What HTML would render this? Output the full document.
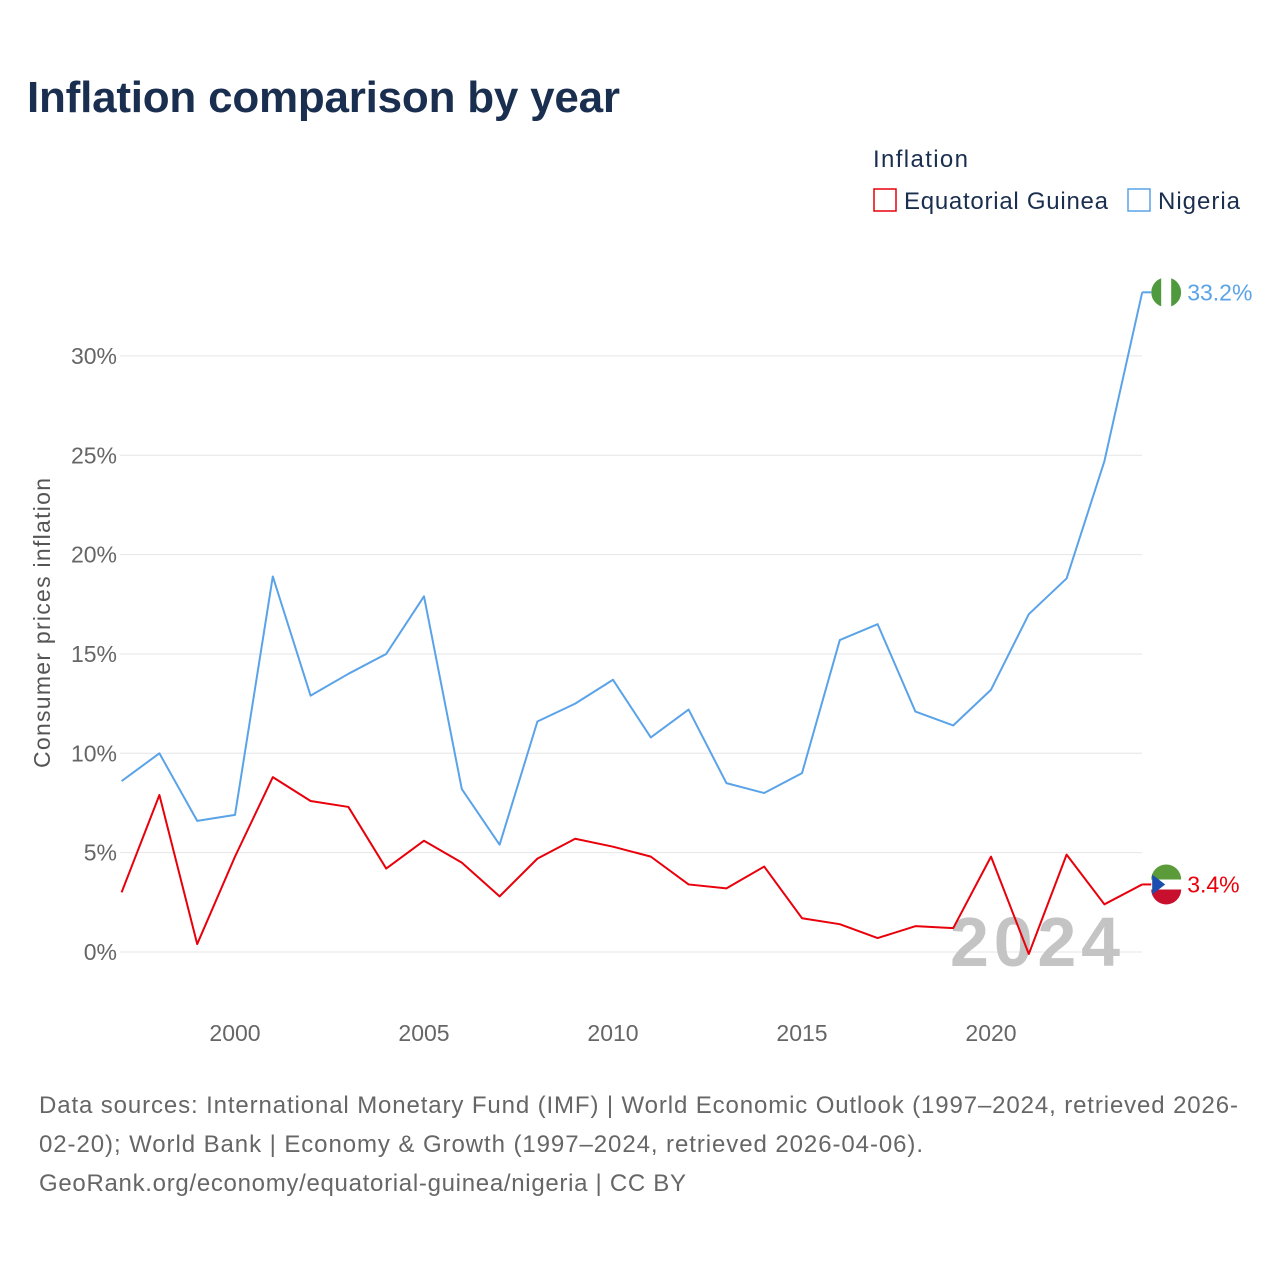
<!DOCTYPE html>
<html><head><meta charset="utf-8"><style>
body{margin:0;background:#fff;font-family:"Liberation Sans",sans-serif}
</style></head><body>
<svg width="1280" height="1280" viewBox="0 0 1280 1280" xmlns="http://www.w3.org/2000/svg" style="font-family:'Liberation Sans',sans-serif">
<rect width="1280" height="1280" fill="#fff"/>
<text x="27" y="112" font-size="44" font-weight="bold" fill="#1a2e4f" textLength="593">Inflation comparison by year</text>
<text x="873" y="167" font-size="24" fill="#1a2e4f" textLength="95">Inflation</text>
<g><rect x="874" y="189" width="22" height="22" fill="none" stroke="#e8000b" stroke-width="1.5"/><text x="904" y="209" font-size="24" fill="#1a2e4f" textLength="204">Equatorial Guinea</text></g>
<g><rect x="1128" y="189" width="22" height="22" fill="none" stroke="#5aa3e8" stroke-width="1.5"/><text x="1158" y="209" font-size="24" fill="#1a2e4f" textLength="82">Nigeria</text></g>
<g id="grid"></g>
<g id="yt"></g>
<g id="xt"></g>
<text transform="translate(50,623) rotate(-90)" text-anchor="middle" font-size="23" fill="#555" textLength="290">Consumer prices inflation</text>
<text x="950" y="966" font-size="70" font-weight="bold" fill="#c4c4c4" textLength="170">2024</text>
<g id="series"></g>
<g font-size="24" fill="#666">
<text x="39" y="1113" textLength="1199">Data sources: International Monetary Fund (IMF) | World Economic Outlook (1997–2024, retrieved 2026-</text>
<text x="39" y="1152" textLength="884">02-20); World Bank | Economy &amp; Growth (1997–2024, retrieved 2026-04-06).</text>
<text x="39" y="1191" textLength="647">GeoRank.org/economy/equatorial-guinea/nigeria | CC BY</text>
</g>
</svg>
<script>
const years=[];for(let y=1997;y<=2024;y++)years.push(y);
const nigeria=[8.6,10.0,6.6,6.9,18.9,12.9,14.0,15.0,17.9,8.2,5.4,11.6,12.5,13.7,10.8,12.2,8.5,8.0,9.0,15.7,16.5,12.1,11.4,13.2,17.0,18.8,24.7,33.2];
const eqGuinea=[3.0,7.9,0.4,4.8,8.8,7.6,7.3,4.2,5.6,4.5,2.8,4.7,5.7,5.3,4.8,3.4,3.2,4.3,1.7,1.4,0.7,1.3,1.2,4.8,-0.1,4.9,2.4,3.4];
const yTicks=[0,5,10,15,20,25,30];
const xTicks=[2000,2005,2010,2015,2020];
const NS="http://www.w3.org/2000/svg";
const X=y=>121.6+(y-1997)*37.8;
const Y=v=>952-v*19.87;
function mk(t,a,p){const e=document.createElementNS(NS,t);for(const k in a)e.setAttribute(k,a[k]);p.appendChild(e);return e;}
const grid=document.getElementById('grid'),yt=document.getElementById('yt'),xt=document.getElementById('xt'),ser=document.getElementById('series');
yTicks.forEach(v=>{
 const l=mk('line',{x1:120,x2:1142,y1:Y(v),y2:Y(v),stroke:'#e6e6e6','stroke-width':1},grid);
 
 
 const t=mk('text',{x:117,y:Y(v)+8,'text-anchor':'end','font-size':23,fill:'#666'},yt);t.textContent=v+'%';
 
 
});
xTicks.forEach(v=>{
 const t=mk('text',{x:X(v),y:1041,'text-anchor':'middle','font-size':23,fill:'#666'},xt);t.textContent=v;
 
 
});
function line(vals,col,name,lbl,flag){
 const p=mk('polyline',{points:vals.map((v,i)=>X(years[i])+','+Y(v)).join(' '),fill:'none',stroke:col,'stroke-width':2,'stroke-linejoin':'round'},ser);
 
 
 const last=vals[vals.length-1],ly=Y(last),lx=X(2024);
 mk('line',{x1:lx,x2:lx+10,y1:ly,y2:ly,stroke:col,'stroke-width':2},ser);
 const g=mk('g',{},ser);
 
 
 flag(g,lx+24,ly);
 const t=mk('text',{x:lx+45,y:ly+8,'font-size':23,fill:col},ser);t.textContent=lbl(last);
 
 
}
line(nigeria,'#5aa3e8','nigeria-line',v=>v.toFixed(1)+'%',(g,cx,cy)=>{
 mk('circle',{cx,cy,r:15,fill:'#fff'},g);
 mk('path',{d:`M${cx-5},${cy-14.1} A15,15 0 0 0 ${cx-5},${cy+14.1} Z`,fill:'#4f9a3c'},g);
 mk('path',{d:`M${cx+5},${cy-14.1} A15,15 0 0 1 ${cx+5},${cy+14.1} Z`,fill:'#4f9a3c'},g);
});
line(eqGuinea,'#e8000b','equatorial-guinea-line',v=>v.toFixed(1)+'%',(g,cx,cy)=>{
 mk('circle',{cx,cy,r:15,fill:'#fff'},g);
 mk('path',{d:`M${cx-15},${cy-5} A15,15 0 0 1 ${cx+15},${cy-5} Z`,fill:'#5b9b3a'},g);
 mk('path',{d:`M${cx-15},${cy+5} A15,15 0 0 0 ${cx+15},${cy+5} Z`,fill:'#c8102e'},g);
 mk('path',{d:`M${cx-14},${cy-10} L${cx-1},${cy} L${cx-14},${cy+10} Z`,fill:'#1a4fb0'},g);
});
</script>
</body></html>
